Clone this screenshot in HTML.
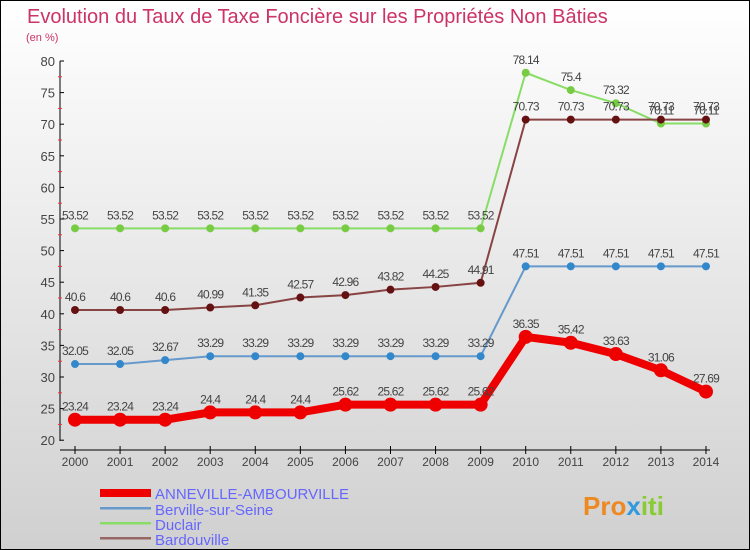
<!DOCTYPE html>
<html><head><meta charset="utf-8"><style>
body{margin:0;}
#wrap{width:750px;height:550px;position:relative;overflow:hidden;}
svg{display:block;font-family:"Liberation Sans",sans-serif;}
</style></head><body>
<div id="wrap">
<svg id="c" width="750" height="550">
<defs><linearGradient id="bg" x1="0" y1="0" x2="0" y2="1"><stop offset="0" stop-color="#ffffff"/><stop offset="1" stop-color="#d0d0d0"/></linearGradient></defs>
<rect x="0.5" y="0.5" width="749" height="549" fill="url(#bg)" stroke="#000"/>
<text x="27" y="23" font-size="20" fill="#cc3366">Evolution du Taux de Taxe Foncière sur les Propriétés Non Bâties</text>
<text x="26" y="41" font-size="11" fill="#cc3366">(en %)</text>
<g id="axes"></g><g id="series"></g>
<g>
<rect x="100" y="489" width="51" height="8" fill="#ee0000"/>
<text x="155" y="499" font-size="15" fill="#6666ff">ANNEVILLE-AMBOURVILLE</text>
<rect x="100" y="507" width="51" height="2.5" fill="#6699cc"/>
<text x="155" y="515" font-size="15" fill="#6666ff">Berville-sur-Seine</text>
<rect x="100" y="522" width="51" height="2.5" fill="#88dd66"/>
<text x="155" y="530" font-size="15" fill="#6666ff">Duclair</text>
<rect x="100" y="537" width="51" height="2.5" fill="#996666"/>
<text x="155" y="545" font-size="15" fill="#6666ff">Bardouville</text>
</g>
<g><text x="583" y="515" font-size="26" font-weight="bold" fill="#ee8822">Pro<tspan fill="#3399dd">x</tspan><tspan fill="#88cc33">iti</tspan></text></g>
</svg></div>
<script>
const years=[2000,2001,2002,2003,2004,2005,2006,2007,2008,2009,2010,2011,2012,2013,2014];
const yTicks=[20,25,30,35,40,45,50,55,60,65,70,75,80];
const anneville=[23.24,23.24,23.24,24.4,24.4,24.4,25.62,25.62,25.62,25.62,36.35,35.42,33.63,31.06,27.69];
const berville=[32.05,32.05,32.67,33.29,33.29,33.29,33.29,33.29,33.29,33.29,47.51,47.51,47.51,47.51,47.51];
const duclair=[53.52,53.52,53.52,53.52,53.52,53.52,53.52,53.52,53.52,53.52,78.14,75.4,73.32,70.11,70.11];
const bardouville=[40.6,40.6,40.6,40.99,41.35,42.57,42.96,43.82,44.25,44.91,70.73,70.73,70.73,70.73,70.73];
const NS='http://www.w3.org/2000/svg';
const x=i=>75+i*45.07;
const y=v=>61+(80-v)*6.32;
function mk(t,a,p){const e=document.createElementNS(NS,t);for(const k in a)e.setAttribute(k,a[k]);p.appendChild(e);return e;}
const ax=document.getElementById('axes');
const yl=mk('line',{x1:60,y1:61,x2:60,y2:441,stroke:'#000'},ax);


const xl=mk('line',{x1:60,y1:450,x2:710,y2:450,stroke:'#000'},ax);


yTicks.forEach((v,i)=>{
  mk('line',{x1:60,y1:y(v),x2:64,y2:y(v),stroke:'#000'},ax);
  if(i<yTicks.length-1)mk('line',{x1:58,y1:y(v+2.5),x2:62,y2:y(v+2.5),stroke:'#ee3333'},ax);
  const t=mk('text',{x:55,y:y(v)+5,'font-size':13,fill:'#444','text-anchor':'end'},ax);t.textContent=v;
  
  
});
years.forEach((yr,i)=>{
  mk('line',{x1:x(i),y1:446,x2:x(i),y2:454,stroke:'#000'},ax);
  const t=mk('text',{x:x(i),y:466,'font-size':12,fill:'#444','text-anchor':'middle'},ax);t.textContent=yr;
  
  
});
const sg=document.getElementById('series');
function series(data,color,dot,w,r,name){
  const g=mk('g',{},sg);
  
  
  mk('polyline',{points:data.map((v,i)=>x(i)+','+y(v)).join(' '),fill:'none',stroke:color,'stroke-width':w},g);
  data.forEach((v,i)=>{
    const c=mk('circle',{cx:x(i),cy:y(v),r:r,fill:dot},g);
    
    
    const t=mk('text',{x:x(i),y:y(v)-9,'font-size':12,fill:'#444','text-anchor':'middle','letter-spacing':'-0.8'},g);t.textContent=v;
    
    
  });
}
series(duclair,'#88dd66','#77cc44',2,4,'series-duclair');
series(bardouville,'#884444','#661111',2,4,'series-bardouville');
series(berville,'#6699cc','#3388cc',2,4,'series-berville');
series(anneville,'#ee0000','#ee0000',8,7,'series-anneville');
</script>
</body></html>
